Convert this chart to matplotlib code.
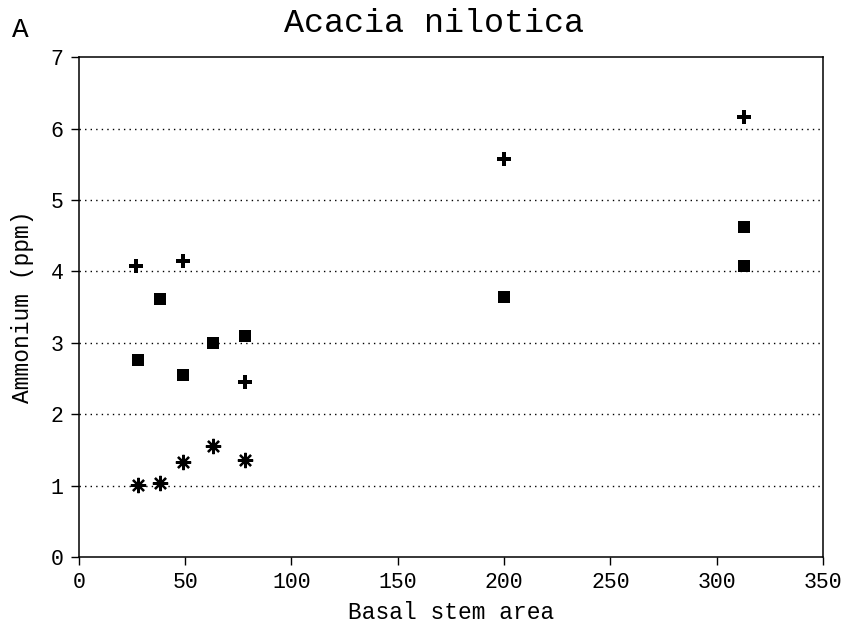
import matplotlib
matplotlib.use("Agg")
import matplotlib.pyplot as plt

# basal stem area vs ammonium, three sampling series
plus_x = [27, 49, 78, 200, 313]
plus_y = [4.07, 4.14, 2.45, 5.58, 6.16]

square_x = [28, 38, 49, 63, 78, 200, 313, 313]
square_y = [2.76, 3.62, 2.55, 3.0, 3.1, 3.64, 4.62, 4.08]

star_x = [28, 38, 49, 63, 78]
star_y = [1.01, 1.04, 1.33, 1.55, 1.36]

x_ticks = [0, 50, 100, 150, 200, 250, 300, 350]
y_ticks = [0, 1, 2, 3, 4, 5, 6, 7]

plt.rcParams['font.family'] = ['Liberation Mono', 'DejaVu Sans Mono']

fig = plt.figure(figsize=(8.48, 6.28), dpi=100)
ax = fig.add_axes([0.093, 0.113, 0.8775, 0.796])

# dotted horizontal grid at the inner integer levels
for yv in y_ticks[1:-1]:
    ax.axhline(yv, color='black', linestyle=(0, (1, 3)), linewidth=1.0, zorder=1)

ax.plot(plus_x, plus_y, linestyle='none', marker='P', markersize=9.5,
        color='black', markeredgewidth=0, zorder=3)
ax.plot(square_x, square_y, linestyle='none', marker='s', markersize=9,
        color='black', markeredgewidth=0, zorder=3)
ax.plot(star_x, star_y, linestyle='none', marker=(8, 2, 0), markersize=11,
        color='black', markeredgewidth=1.6, zorder=3)
ax.plot(star_x, star_y, linestyle='none', marker='o', markersize=5,
        color='black', markeredgewidth=0, zorder=3)

ax.set_xlim(0, 350)
ax.set_ylim(0, 7)
ax.set_xticks(x_ticks)
ax.set_yticks(y_ticks)
ax.tick_params(direction='out', length=6, width=1, labelsize=15.5,
               colors='black', pad=5)
for s in ax.spines.values():
    s.set_linewidth(1.1)

ax.set_xlabel('Basal stem area', fontsize=16.5, labelpad=5.5)
ax.set_ylabel('Ammonium (ppm)', fontsize=16.5, labelpad=12)

fig.text(0.512, 0.963, 'Acacia nilotica', fontsize=24, ha='center', va='center')
fig.text(0.014, 0.953, 'A', fontsize=20, ha='left', va='center')

fig.savefig('out.png', dpi=100)
